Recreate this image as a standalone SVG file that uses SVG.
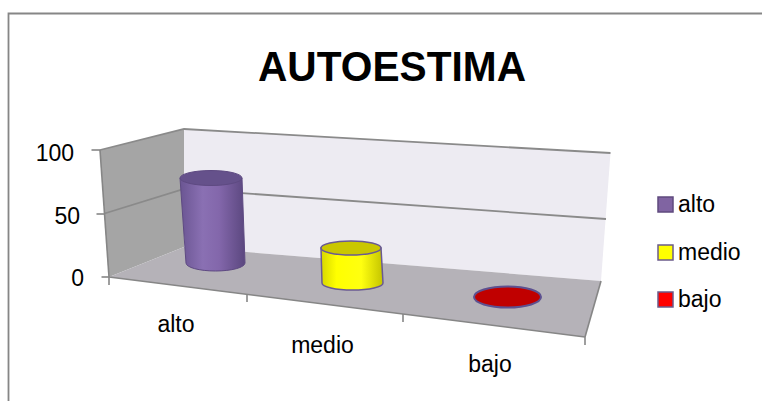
<svg xmlns="http://www.w3.org/2000/svg" width="762" height="401" viewBox="0 0 762 401">
  <defs>
    <linearGradient id="gPurple" x1="0" y1="0" x2="1" y2="0">
      <stop offset="0" stop-color="#6a5592"/>
      <stop offset="0.35" stop-color="#8a70b3"/>
      <stop offset="0.6" stop-color="#8367ab"/>
      <stop offset="1" stop-color="#5b477f"/>
    </linearGradient>
    <linearGradient id="gYellow" x1="0" y1="0" x2="1" y2="0">
      <stop offset="0" stop-color="#d6d600"/>
      <stop offset="0.25" stop-color="#ffff00"/>
      <stop offset="0.65" stop-color="#ffff10"/>
      <stop offset="1" stop-color="#c4c400"/>
    </linearGradient>
    <style>
      .lbl { font-family: "Liberation Sans", Arial, sans-serif; font-size: 23px; fill: #000; }
      .axis { stroke: #868686; stroke-width: 1.6; fill: none; }
      .grid { stroke: #8a8a8a; stroke-width: 1.8; fill: none; }
      .tick { stroke: #868686; stroke-width: 1.6; }
    </style>
  </defs>

  <rect x="0" y="0" width="762" height="401" fill="#ffffff"/>
  <!-- chart border -->
  <path d="M8.5,401 V13.5 H762" fill="none" stroke="#868686" stroke-width="1.8"/>

  <!-- title -->
  <text x="392" y="81" text-anchor="middle" font-family="'Liberation Sans', Arial, sans-serif" font-weight="bold" font-size="43" textLength="268" lengthAdjust="spacingAndGlyphs">AUTOESTIMA</text>

  <!-- walls and floor -->
  <g id="walls">
    <polygon points="100,150 184,129 184,247 109,277" fill="#a5a5a5"/>
    <polygon points="184,129 610.5,153 601,281 184,247" fill="#edebf2"/>
    <polygon points="184,247 601,281 585,337 109,277" fill="#b5b2b8"/>
  </g>

  <!-- gridlines, axes, ticks -->
  <g id="connectors">
    <polyline class="grid" points="100,150 184,129 610.5,153"/>
    <polyline class="grid" points="104.5,213.5 184,189 606,219"/>
    <line class="axis" x1="100" y1="150" x2="109" y2="277"/>
    <line class="axis" x1="109" y1="277" x2="585" y2="337"/>
    <line class="axis" x1="585" y1="337" x2="601" y2="281"/>
    <line class="tick" x1="91.5" y1="150" x2="100" y2="150"/>
    <line class="tick" x1="96.5" y1="214" x2="104.5" y2="214"/>
    <line class="tick" x1="101.5" y1="277" x2="109" y2="277"/>
    <line class="tick" x1="109" y1="277" x2="109" y2="285"/>
    <line class="tick" x1="247" y1="294.5" x2="247" y2="302"/>
    <line class="tick" x1="403" y1="314" x2="403" y2="322"/>
    <line class="tick" x1="585" y1="337" x2="585" y2="345"/>
  </g>

  <!-- value axis labels -->
  <g id="value-axis">
    <text class="lbl" x="74" y="160.5" text-anchor="end">100</text>
    <text class="lbl" x="80" y="224" text-anchor="end">50</text>
    <text class="lbl" x="84" y="286" text-anchor="end">0</text>
  </g>

  <!-- bars -->
  <g id="bar-alto">
    <path d="M180,178 L186,263 A29.5,8 0 0 0 245,263 L242,178 Z" fill="url(#gPurple)" stroke="#5e4a82" stroke-width="1"/>
    <ellipse cx="211" cy="178" rx="31" ry="7.5" fill="#65518b" stroke="#5e4a82" stroke-width="1"/>
  </g>
  <g id="bar-medio">
    <path d="M321,248 L322,283 A30.5,7 0 0 0 383,283 L381,248 Z" fill="url(#gYellow)" stroke="#6a5a92" stroke-width="1.5"/>
    <ellipse cx="351" cy="248" rx="30" ry="7" fill="#cac700" stroke="#6a5a92" stroke-width="1.5"/>
  </g>
  <g id="bar-bajo">
    <ellipse cx="507.5" cy="297" rx="33.5" ry="10.5" fill="#c00000" stroke="#5d5190" stroke-width="2"/>
  </g>

  <!-- category labels -->
  <g id="category-axis">
    <text class="lbl" x="176" y="332" text-anchor="middle">alto</text>
    <text class="lbl" x="322.5" y="352.5" text-anchor="middle">medio</text>
    <text class="lbl" x="490" y="372" text-anchor="middle">bajo</text>
  </g>

  <!-- legend -->
  <g id="legend">
    <g id="legend-alto">
      <rect x="658" y="197" width="15" height="15" fill="#8064a2" stroke="#5f4a7e" stroke-width="1.5"/>
      <text class="lbl" x="678" y="212">alto</text>
    </g>
    <g id="legend-medio">
      <rect x="658" y="245" width="15" height="15" fill="#ffff00" stroke="#6b5b8a" stroke-width="1.5"/>
      <text class="lbl" x="678" y="260">medio</text>
    </g>
    <g id="legend-bajo">
      <rect x="658" y="292" width="15" height="15" fill="#ff0000" stroke="#6b5b8a" stroke-width="1.5"/>
      <text class="lbl" x="678" y="307">bajo</text>
    </g>
  </g>
</svg>
